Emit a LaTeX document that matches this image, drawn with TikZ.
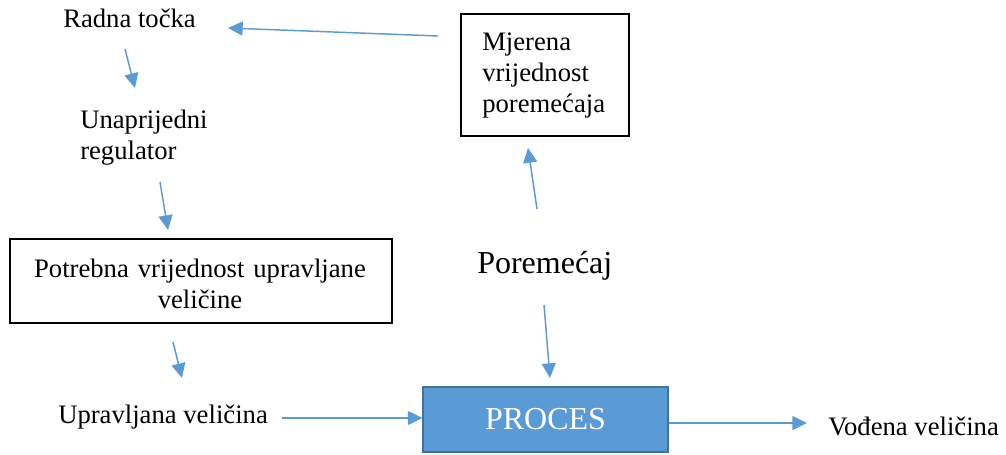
\documentclass[tikz,border=0pt]{standalone}
\usepackage{fontspec}
\setmainfont{Liberation Serif}
\usetikzlibrary{arrows.meta}
\definecolor{arrowblue}{HTML}{5B9BD5}
\definecolor{procfill}{HTML}{5B9BD5}
\definecolor{procdraw}{HTML}{41719C}
\tikzset{
  lbl/.style={inner sep=0pt, font=\fontsize{20}{23.6}\selectfont},
  biglbl/.style={inner sep=0pt, font=\fontsize{24}{28}\selectfont},
  wbox/.style={draw=black, line width=1.1pt, inner sep=0pt},
  conn/.style={draw=arrowblue, line width=1.1pt, -{Triangle[length=11pt,width=10.5pt]}},
}
\begin{document}
\begin{tikzpicture}[x=0.75pt,y=-0.75pt]
\useasboundingbox (0,0) rectangle (1006,454);
% text labels
\node[lbl, anchor=base west] (radna) at (63,27) {Radna točka};
\node[lbl, anchor=base west, text width=150pt, align=left] (unap) at (80,128) {Unaprijedni\\regulator};
\node[biglbl, anchor=base west] (porem) at (477,273) {Poremećaj};
\node[lbl, anchor=base west] (uprav) at (58,423) {Upravljana veličina};
\node[lbl, anchor=base west] (vodj) at (828,435) {Vođena veličina};
% boxes
\node[wbox, minimum width=126pt, minimum height=91.5pt] (mjer) at (545,75) {};
\node[lbl, anchor=base west, text width=94.5pt, align=left] (mjertxt) at (482,50) {Mjerena\\vrijednost\\poremećaja};
\node[wbox, minimum width=286.5pt, minimum height=63pt] (potr) at (201,281) {};
\node[lbl, anchor=base, text width=270pt, align=center] (potrtxt) at (200,277) {Potrebna vrijednost upravljane\\veličine};
\node[draw=procdraw, fill=procfill, line width=0.8pt, minimum width=183.75pt, minimum height=48.75pt, inner sep=0pt, text=white, font=\fontsize{24}{28}\selectfont] (proc) at (545.5,419.5) {PROCES};
% connector end points
\coordinate (a1s) at (438,36);  \coordinate (a1e) at (228,28);
\coordinate (a2s) at (125,49);  \coordinate (a2e) at (135,88);
\coordinate (a3s) at (160,182); \coordinate (a3e) at (168,230);
\coordinate (a4s) at (173,342); \coordinate (a4e) at (182,378);
\coordinate (a5s) at (282,418);
\coordinate (a6s) at (544,305); \coordinate (a6e) at (550,378);
\coordinate (a7s) at (537,209); \coordinate (a7e) at (528,148);
\coordinate (a8e) at (807,423);
% connectors
\draw[conn] (a1s) -- (a1e);
\draw[conn] (a2s) -- (a2e);
\draw[conn] (a3s) -- (a3e);
\draw[conn] (a4s) -- (a4e);
\draw[conn] (a5s) -- (a5s -| proc.west);
\draw[conn] (a6s) -- (a6e);
\draw[conn] (a7s) -- (a7e);
\draw[conn] (proc.east |- a8e) -- (a8e);
\end{tikzpicture}
\end{document}
